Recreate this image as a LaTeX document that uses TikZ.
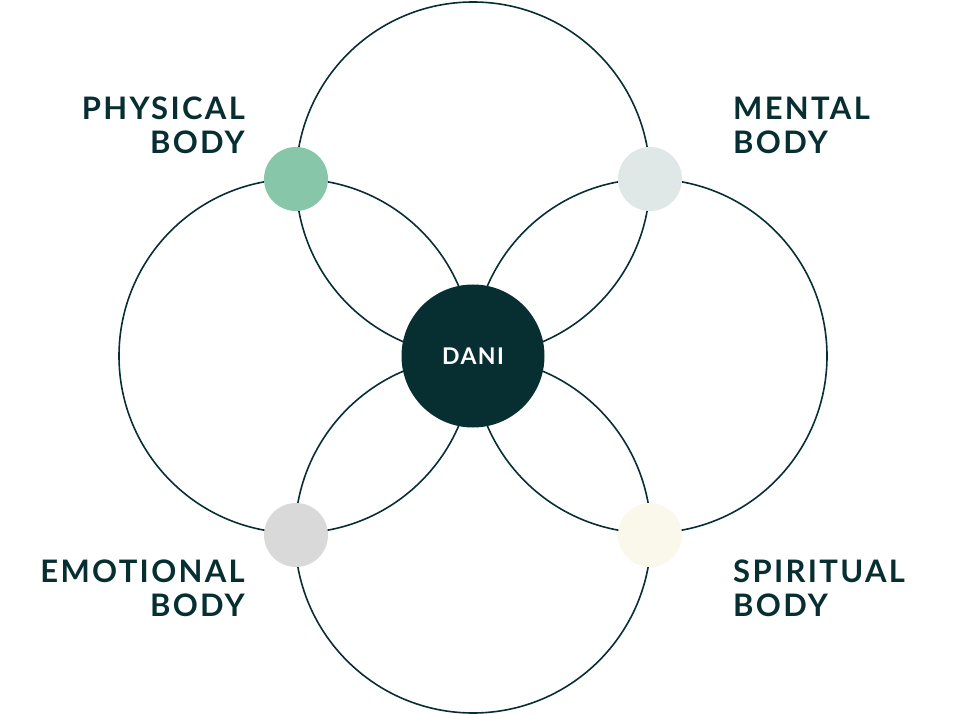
\documentclass[tikz,border=0pt]{standalone}
\usepackage{fontspec}
\setmainfont{Lato}
\newfontfamily\labelfont[LetterSpace=7.5]{Lato Bold}
\newfontfamily\danifont[LetterSpace=6]{Lato Bold}
\definecolor{dark}{HTML}{072F31}
\definecolor{physc}{HTML}{88C6A9}
\definecolor{mentc}{HTML}{DFE8E6}
\definecolor{emoc}{HTML}{D9D9D9}
\definecolor{spic}{HTML}{FAF7EB}
\begin{document}
\begin{tikzpicture}[x=1pt,y=-1pt,
  ring/.style={draw=dark,line width=1.6pt},
  dot/.style={circle,minimum size=64pt,inner sep=0pt},
  lbl/.style={text=dark,inner sep=0pt,font=\labelfont\fontsize{31}{34}\selectfont},
]
\useasboundingbox (0,0) rectangle (978,714);
% big circles
\coordinate (ct) at (473,179);
\coordinate (cl) at (296,356);
\coordinate (cr) at (650,356);
\coordinate (cb) at (473,535);
\draw[ring] (ct) circle[radius=177];
\draw[ring] (cl) circle[radius=177];
\draw[ring] (cr) circle[radius=177];
\draw[ring] (cb) circle[radius=178];
% dots
\node[dot,fill=physc] (phys) at (296,179) {};
\node[dot,fill=mentc] (ment) at (650,179) {};
\node[dot,fill=emoc] (emo) at (296,535) {};
\node[dot,fill=spic] (spi) at (650,535) {};
\node[circle,fill=dark,minimum size=143pt,inner sep=0pt,text=white,
  font=\danifont\fontsize{23}{26}\selectfont] (dani) at (473,356) {DANI};
% labels
\node[lbl,anchor=base east] (pl1) at (245,120) {PHYSICAL};
\node[lbl,anchor=base east] (pl2) at (245,154) {BODY};
\node[lbl,anchor=base west] (ml1) at (733,120) {MENTAL};
\node[lbl,anchor=base west] (ml2) at (733,154) {BODY};
\node[lbl,anchor=base east] (el1) at (245,582) {EMOTIONAL};
\node[lbl,anchor=base east] (el2) at (245,616) {BODY};
\node[lbl,anchor=base west] (sl1) at (733,582) {SPIRITUAL};
\node[lbl,anchor=base west] (sl2) at (733,616) {BODY};
\end{tikzpicture}
\end{document}
